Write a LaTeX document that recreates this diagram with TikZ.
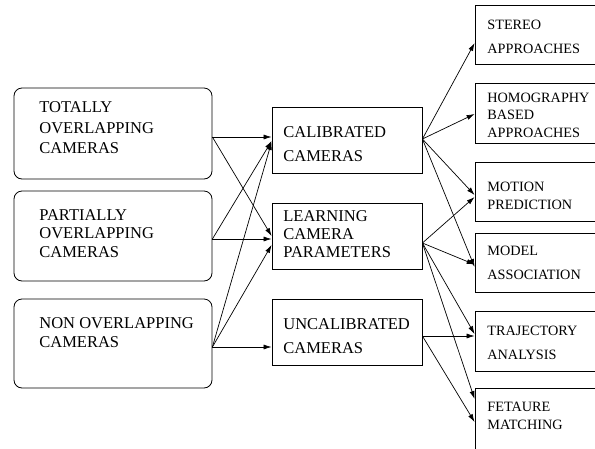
\documentclass[tikz,border=0pt]{standalone}
\usepackage{fontspec}
\setmainfont{Liberation Serif}
\usetikzlibrary{arrows.meta}
\tikzset{
  lbox/.style={draw, rounded corners=8pt, minimum width=198pt, inner sep=0pt},
  mbox/.style={draw, minimum width=150pt, minimum height=66pt, inner sep=0pt},
  rbox/.style={draw, minimum width=122pt, inner sep=0pt},
  lab/.style 2 args={anchor=north west, inner sep=0pt, align=left, font=\fontsize{#1}{#2}\selectfont},
  arr/.style={-{Latex[length=8pt,width=5pt]}, line width=0.7pt},
}
\begin{document}
\begin{tikzpicture}[x=1pt, y=-1pt, line width=0.8pt]
\useasboundingbox (0,0) rectangle (595,448);
% left boxes
\node[lbox, minimum height=91pt] (L1) at (113,133.5) {};
\node[lbox, minimum height=90pt] (L2) at (113,236) {};
\node[lbox, minimum height=89pt] (L3) at (113,343.5) {};
\node[lab={16.5}{20.3}] (t1) at (39,101.6) {TOTALLY\\OVERLAPPING\\CAMERAS};
\node[lab={16.5}{18.5}] (t2) at (39,209.1) {PARTIALLY\\OVERLAPPING\\CAMERAS};
\node[lab={16.5}{19}] (t3) at (39,317.1) {NON OVERLAPPING\\CAMERAS};
% middle boxes
\node[mbox] (cal) at (347,140) {};
\node[mbox] (lrn) at (347,236) {};
\node[mbox] (unc) at (347,332) {};
\node[lab={16.5}{24}] (t4) at (283,125.8) {CALIBRATED\\CAMERAS};
\node[lab={16.5}{18}] (t5) at (283,209.8) {LEARNING\\CAMERA\\PARAMETERS};
\node[lab={16.5}{23.7}] (t6) at (283,318.1) {UNCALIBRATED\\CAMERAS};
% right boxes
\node[rbox, minimum height=59pt] (ste) at (536,34.5) {};
\node[rbox, minimum height=60pt] (hom) at (536,113) {};
\node[rbox, minimum height=59pt] (mot) at (536,191.5) {};
\node[rbox, minimum height=59pt] (mod) at (536,262.5) {};
\node[rbox, minimum height=60pt] (tra) at (536,341) {};
\node[rbox, minimum height=62pt] (fet) at (536,419) {};
\node[lab={14.25}{24}] (t7) at (487,19.6) {STEREO\\APPROACHES};
\node[lab={14.25}{17.5}] (t8) at (487,92.6) {HOMOGRAPHY\\BASED\\APPROACHES};
\node[lab={14.25}{18}] (t9) at (487,181.6) {MOTION\\PREDICTION};
\node[lab={14.25}{24}] (t10) at (487,245.6) {MODEL\\ASSOCIATION};
\node[lab={14.25}{24}] (t11) at (487,325.6) {TRAJECTORY\\ANALYSIS};
\node[lab={14.25}{18}] (t12) at (487,401.6) {FETAURE\\MATCHING};
% left to middle
\draw[arr] ([yshift=-3.5pt]L1.east) -- ([yshift=3pt]cal.west);
\draw[arr] ([yshift=-3.5pt]L1.east) -- ([yshift=0pt]lrn.west);
\draw[arr] ([yshift=-3pt]L2.east) -- ([yshift=-1pt]cal.west);
\draw[arr] ([yshift=-3pt]L2.east) -- ([yshift=-3pt]lrn.west);
\draw[arr] ([yshift=-3.5pt]L3.east) -- ([yshift=-2pt]cal.west);
\draw[arr] ([yshift=-3.5pt]L3.east) -- ([yshift=-9pt]lrn.west);
\draw[arr] ([yshift=-3.5pt]L3.east) -- ([yshift=-15pt]unc.west);
% middle to right
\draw[arr] ([yshift=1pt]cal.east) -- ([yshift=-8.5pt]ste.west);
\draw[arr] ([yshift=1pt]cal.east) -- ([yshift=-1pt]hom.west);
\draw[arr] ([yshift=1pt]cal.east) -- ([yshift=-3.5pt]mot.west);
\draw[arr] ([yshift=1pt]cal.east) -- ([yshift=-4.5pt]mod.west);
\draw[arr] ([yshift=-7pt]lrn.east) -- ([yshift=-5.5pt]mot.west);
\draw[arr] ([yshift=-7pt]lrn.east) -- ([yshift=-2pt]mod.west);
\draw[arr] ([yshift=-7pt]lrn.east) -- ([yshift=7pt]tra.west);
\draw[arr] ([yshift=-7pt]lrn.east) -- ([yshift=20pt]fet.west);
\draw[arr] ([yshift=-4pt]unc.east) -- ([yshift=5pt]tra.west);
\draw[arr] ([yshift=-4pt]unc.east) -- ([yshift=-3pt]fet.west);
\end{tikzpicture}
\end{document}
